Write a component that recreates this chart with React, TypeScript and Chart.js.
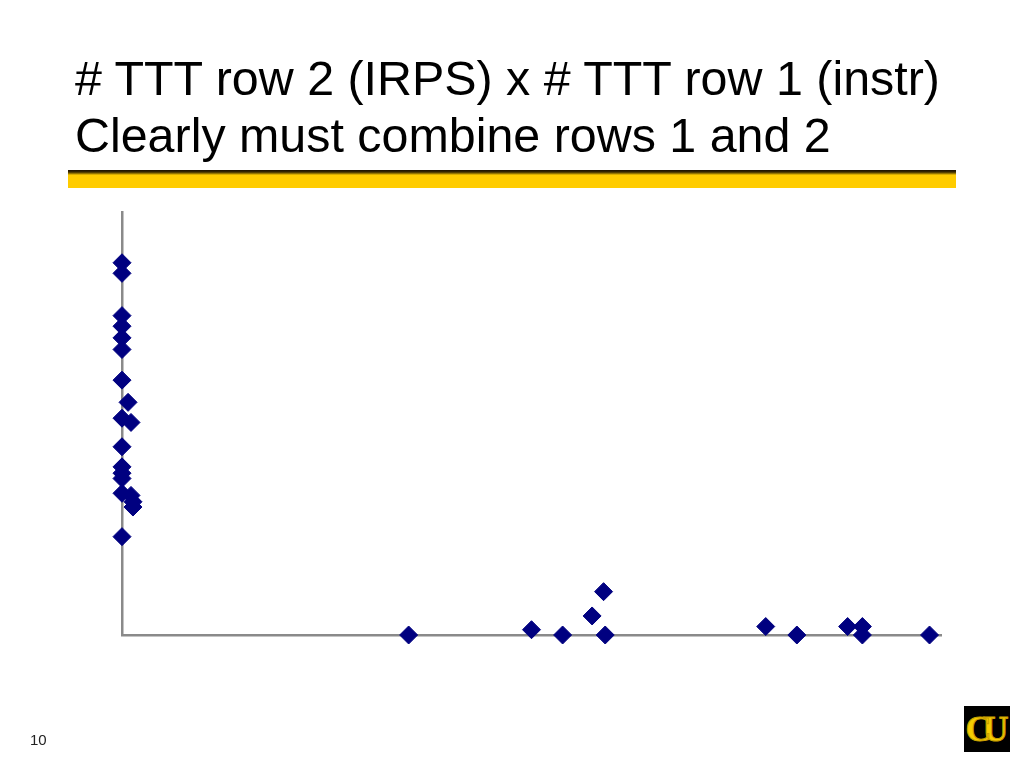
import React, { useEffect, useRef } from "react";
import { Chart, registerables } from "chart.js";

Chart.register(...registerables);

const titleLines = ["# TTT row 2 (IRPS) x # TTT row 1 (instr)", "Clearly must combine rows 1 and 2"];
const pageNumber = "10";

// x: # TTT row 1 (instr), y: # TTT row 2 (IRPS)
const instrCounts = [
  0, 0, 0, 0, 0, 0, 0, 0.37, 0, 0.55, 0, 0, 0, 0, 0, 0.55, 0.67, 0.67, 0,
  17.5, 25.0, 26.9, 28.7, 29.4, 29.5, 39.3, 41.2, 44.3, 45.2, 45.2, 49.3,
];
const irpsCounts = [
  35.2, 34.2, 30.2, 29.2, 28.1, 27.0, 24.1, 22.0, 20.5, 20.1, 17.8, 15.9, 15.3, 14.8, 13.4, 13.2, 12.6, 12.1, 9.3,
  0, 0.5, 0, 1.8, 4.1, 0, 0.8, 0, 0.8, 0.8, 0, 0,
];
const xMax = 50;
const yMax = 40;

export default function App() {
  const ref = useRef<HTMLCanvasElement>(null);
  useEffect(() => {
    if (!ref.current) return;
    const points = instrCounts.map((x, i) => ({ x, y: irpsCounts[i] }));
    const chart = new Chart(ref.current, {
      type: "scatter",
      data: {
        datasets: [
          {
            data: points,
            pointStyle: "rectRot",
            pointRadius: 9,
            backgroundColor: "#000080",
            borderColor: "#000080",
            borderWidth: 1,
            clip: false,
          } as any,
        ],
      },
      options: {
        animation: false,
        responsive: false,
        layout: { padding: { left: 122, right: 83, top: 212, bottom: 133 } },
        plugins: { legend: { display: false }, tooltip: { enabled: false } },
        scales: {
          x: {
            type: "linear",
            min: 0,
            max: xMax,
            ticks: { display: false },
            grid: { display: false, drawTicks: false },
            border: { display: true, color: "#8a8a8a", width: 2.5 },
          },
          y: {
            type: "linear",
            min: 0,
            max: yMax,
            ticks: { display: false },
            grid: { display: false, drawTicks: false },
            border: { display: true, color: "#8a8a8a", width: 2.5 },
          },
        },
      },
    });
    return () => chart.destroy();
  }, []);

  return (
    <div style={{ position: "absolute", left: 0, top: 0, width: 1024, height: 768, background: "#fff", overflow: "hidden", fontFamily: "'Liberation Sans', Arial, sans-serif" }}>
      <div style={{ position: "absolute", left: 75, top: 50, fontSize: 48.4, lineHeight: "57px", color: "#000", whiteSpace: "nowrap" }}>
        {titleLines.map((t, i) => (
          <div key={i}>{t}</div>
        ))}
      </div>
      <div style={{ position: "absolute", left: 68, top: 170, width: 888, height: 18, background: "linear-gradient(#1a1000 0px, #3a2a00 2px, #b08c00 4px, #ffcc00 5px, #ffcc00 18px)" }} />
      <canvas ref={ref} width={1024} height={768} style={{ position: "absolute", left: 0, top: 0, width: 1024, height: 768 }} />
      <div style={{ position: "absolute", left: 30, top: 731, fontSize: 15, color: "#222" }}>{pageNumber}</div>
      <div style={{ position: "absolute", left: 964, top: 706, width: 46, height: 46, background: "#000", display: "flex", alignItems: "center", justifyContent: "center" }}>
        <span style={{ color: "#f5cc00", fontFamily: "'Liberation Serif', serif", fontWeight: "bold", fontSize: 36, letterSpacing: -9, paddingRight: 9, lineHeight: "36px", WebkitTextStroke: "1px #c9a000" }}>CU</span>
      </div>
    </div>
  );
}
